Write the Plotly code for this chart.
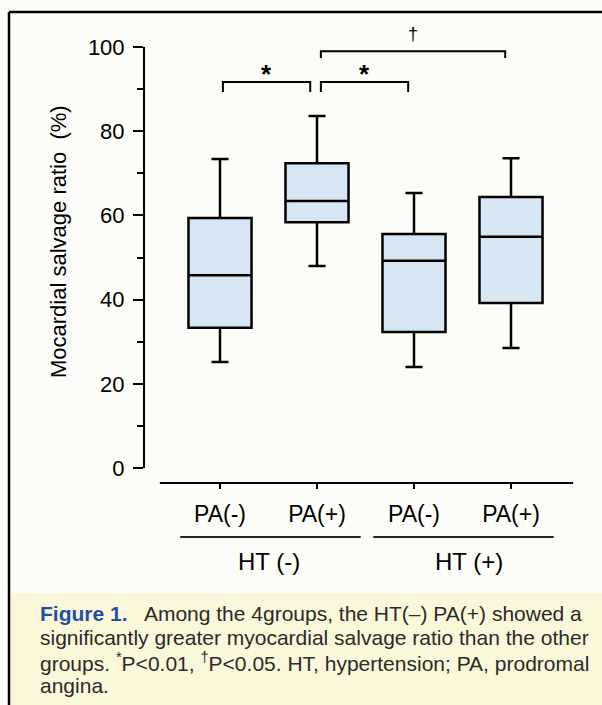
import plotly.graph_objects as go

# ---- data ----
groups = ["PA(-)", "PA(+)", "PA(-)", "PA(+)"]
positions = [0, 1, 2, 3]
lower_whisker = [25.2, 48.0, 24.0, 28.5]
q1_vals = [33.3, 58.4, 32.3, 39.2]
median_vals = [45.8, 63.4, 49.2, 54.9]
q3_vals = [59.4, 72.4, 55.6, 64.4]
upper_whisker = [73.4, 83.6, 65.3, 73.6]
y_ticks = [0, 20, 40, 60, 80, 100]
ht_groups = ["HT (-)", "HT (+)"]

W, H = 602, 705
ML, MR, MT, MB = 144, 22, 25, 222
PW = W - ML - MR
PH = H - MT - MB

def px(xp):
    return (xp - ML) / PW

def py(yp):
    return (H - MB - yp) / PH

FONT = "Liberation Sans, Arial, sans-serif"

fig = go.Figure()
fig.add_trace(go.Box(
    x=positions, q1=q1_vals, median=median_vals, q3=q3_vals,
    lowerfence=lower_whisker, upperfence=upper_whisker,
    width=0.65, whiskerwidth=0.27, boxpoints=False,
    fillcolor="#D6E6F2", line=dict(color="black", width=2.5),
    showlegend=False, hoverinfo="skip",
))

shapes = []
annotations = []

# backgrounds / frame
shapes.append(dict(type="rect", xref="paper", yref="paper", x0=px(10), x1=px(602),
                   y0=py(705), y1=py(593), fillcolor="#FAF8D8", line=dict(width=0), layer="below"))
shapes.append(dict(type="line", xref="paper", yref="paper", x0=px(9), x1=px(603),
                   y0=py(12), y1=py(12), line=dict(color="black", width=2.5)))
shapes.append(dict(type="line", xref="paper", yref="paper", x0=px(9), x1=px(9),
                   y0=py(12), y1=py(706), line=dict(color="black", width=2.5)))

# y axis line from 0 to 100
shapes.append(dict(type="line", xref="x domain", yref="y", x0=0, x1=0, y0=0, y1=100,
                   line=dict(color="black", width=2)))
# x axis line
shapes.append(dict(type="line", xref="x", yref="paper", x0=-0.62, x1=3.64, y0=0, y1=0,
                   line=dict(color="black", width=2)))

# significance brackets
def bracket(x0, x1, y, drop, label, ly, size):
    shapes.append(dict(type="path", xref="x", yref="y",
                       path=f"M {x0},{y-drop} L {x0},{y} L {x1},{y} L {x1},{y-drop}",
                       line=dict(color="black", width=2)))
    annotations.append(dict(x=(x0 + x1) / 2, y=ly, xref="x", yref="y", text=label,
                            xanchor="center", showarrow=False,
                            font=dict(family=FONT, size=size, color="black")))

bracket(0.03, 0.93, 91.7, 2.4, "<b>*</b>", 93.6, 26)
bracket(1.04, 1.94, 91.7, 2.4, "<b>*</b>", 93.6, 26)
bracket(1.04, 2.94, 99.0, 1.6, "†", 103.0, 18)

# group lines and labels
for x0, x1, xc, lab in [(-0.41, 1.45, 0.5, ht_groups[0]), (1.58, 3.44, 2.57, ht_groups[1])]:
    shapes.append(dict(type="line", xref="x", yref="paper", x0=x0, x1=x1,
                       y0=py(537), y1=py(537), line=dict(color="#222", width=1.8)))
    annotations.append(dict(x=xc, y=py(561), xref="x", yref="paper", text=lab, showarrow=False,
                            xanchor="center", yanchor="middle",
                            font=dict(family=FONT, size=24, color="black")))

# y-axis title
annotations.append(dict(x=px(58), y=py(242), xref="paper", yref="paper",
                        xanchor="center", yanchor="middle",
                        text="Mocardial salvage ratio  (%)", textangle=-90, showarrow=False,
                        font=dict(family=FONT, size=22, color="black")))

# caption
cap_font = dict(family="Liberation Sans, Arial, sans-serif", size=21, color="#2a2a2a")
cap_lines = [
    "<b><span style='color:#1F50A3'>Figure 1.</span></b>   Among the 4groups, the HT(\u2013) PA(+) showed a",
    "significantly greater myocardial salvage ratio than the other",
    "groups. <sup>*</sup>P&lt;0.01, <sup>\u2020</sup>P&lt;0.05. HT, hypertension; PA, prodromal",
    "angina.",
]
for i, t in enumerate(cap_lines):
    annotations.append(dict(x=px(38), y=py(613 + 24.3 * i), xref="paper", yref="paper",
                            xanchor="left", yanchor="middle", text=t, showarrow=False,
                            font=cap_font))

fig.update_layout(
    width=W, height=H,
    margin=dict(l=ML, r=MR, t=MT, b=MB),
    paper_bgcolor="#FCFCF8", plot_bgcolor="rgba(0,0,0,0)",
    shapes=shapes, annotations=annotations,
    xaxis=dict(range=[-76 / 97, 360 / 97], tickvals=positions, ticktext=groups,
               ticks="outside", ticklen=5, tickwidth=2, tickcolor="black",
               showline=False, showgrid=False, zeroline=False, ticklabelstandoff=5,
               tickfont=dict(family=FONT, size=23, color="black"), fixedrange=True),
    yaxis=dict(range=[-15 / 4.21, 443 / 4.21], tickvals=y_ticks,
               ticks="outside", ticklen=10, tickwidth=2, tickcolor="black",
               minor=dict(dtick=10, ticks="outside", ticklen=6, tickwidth=2, tickcolor="black", showgrid=False),
               showline=False, showgrid=False, zeroline=False, ticklabelstandoff=4,
               tickfont=dict(family=FONT, size=22, color="black"), fixedrange=True),
)

fig.write_html("out.html")
